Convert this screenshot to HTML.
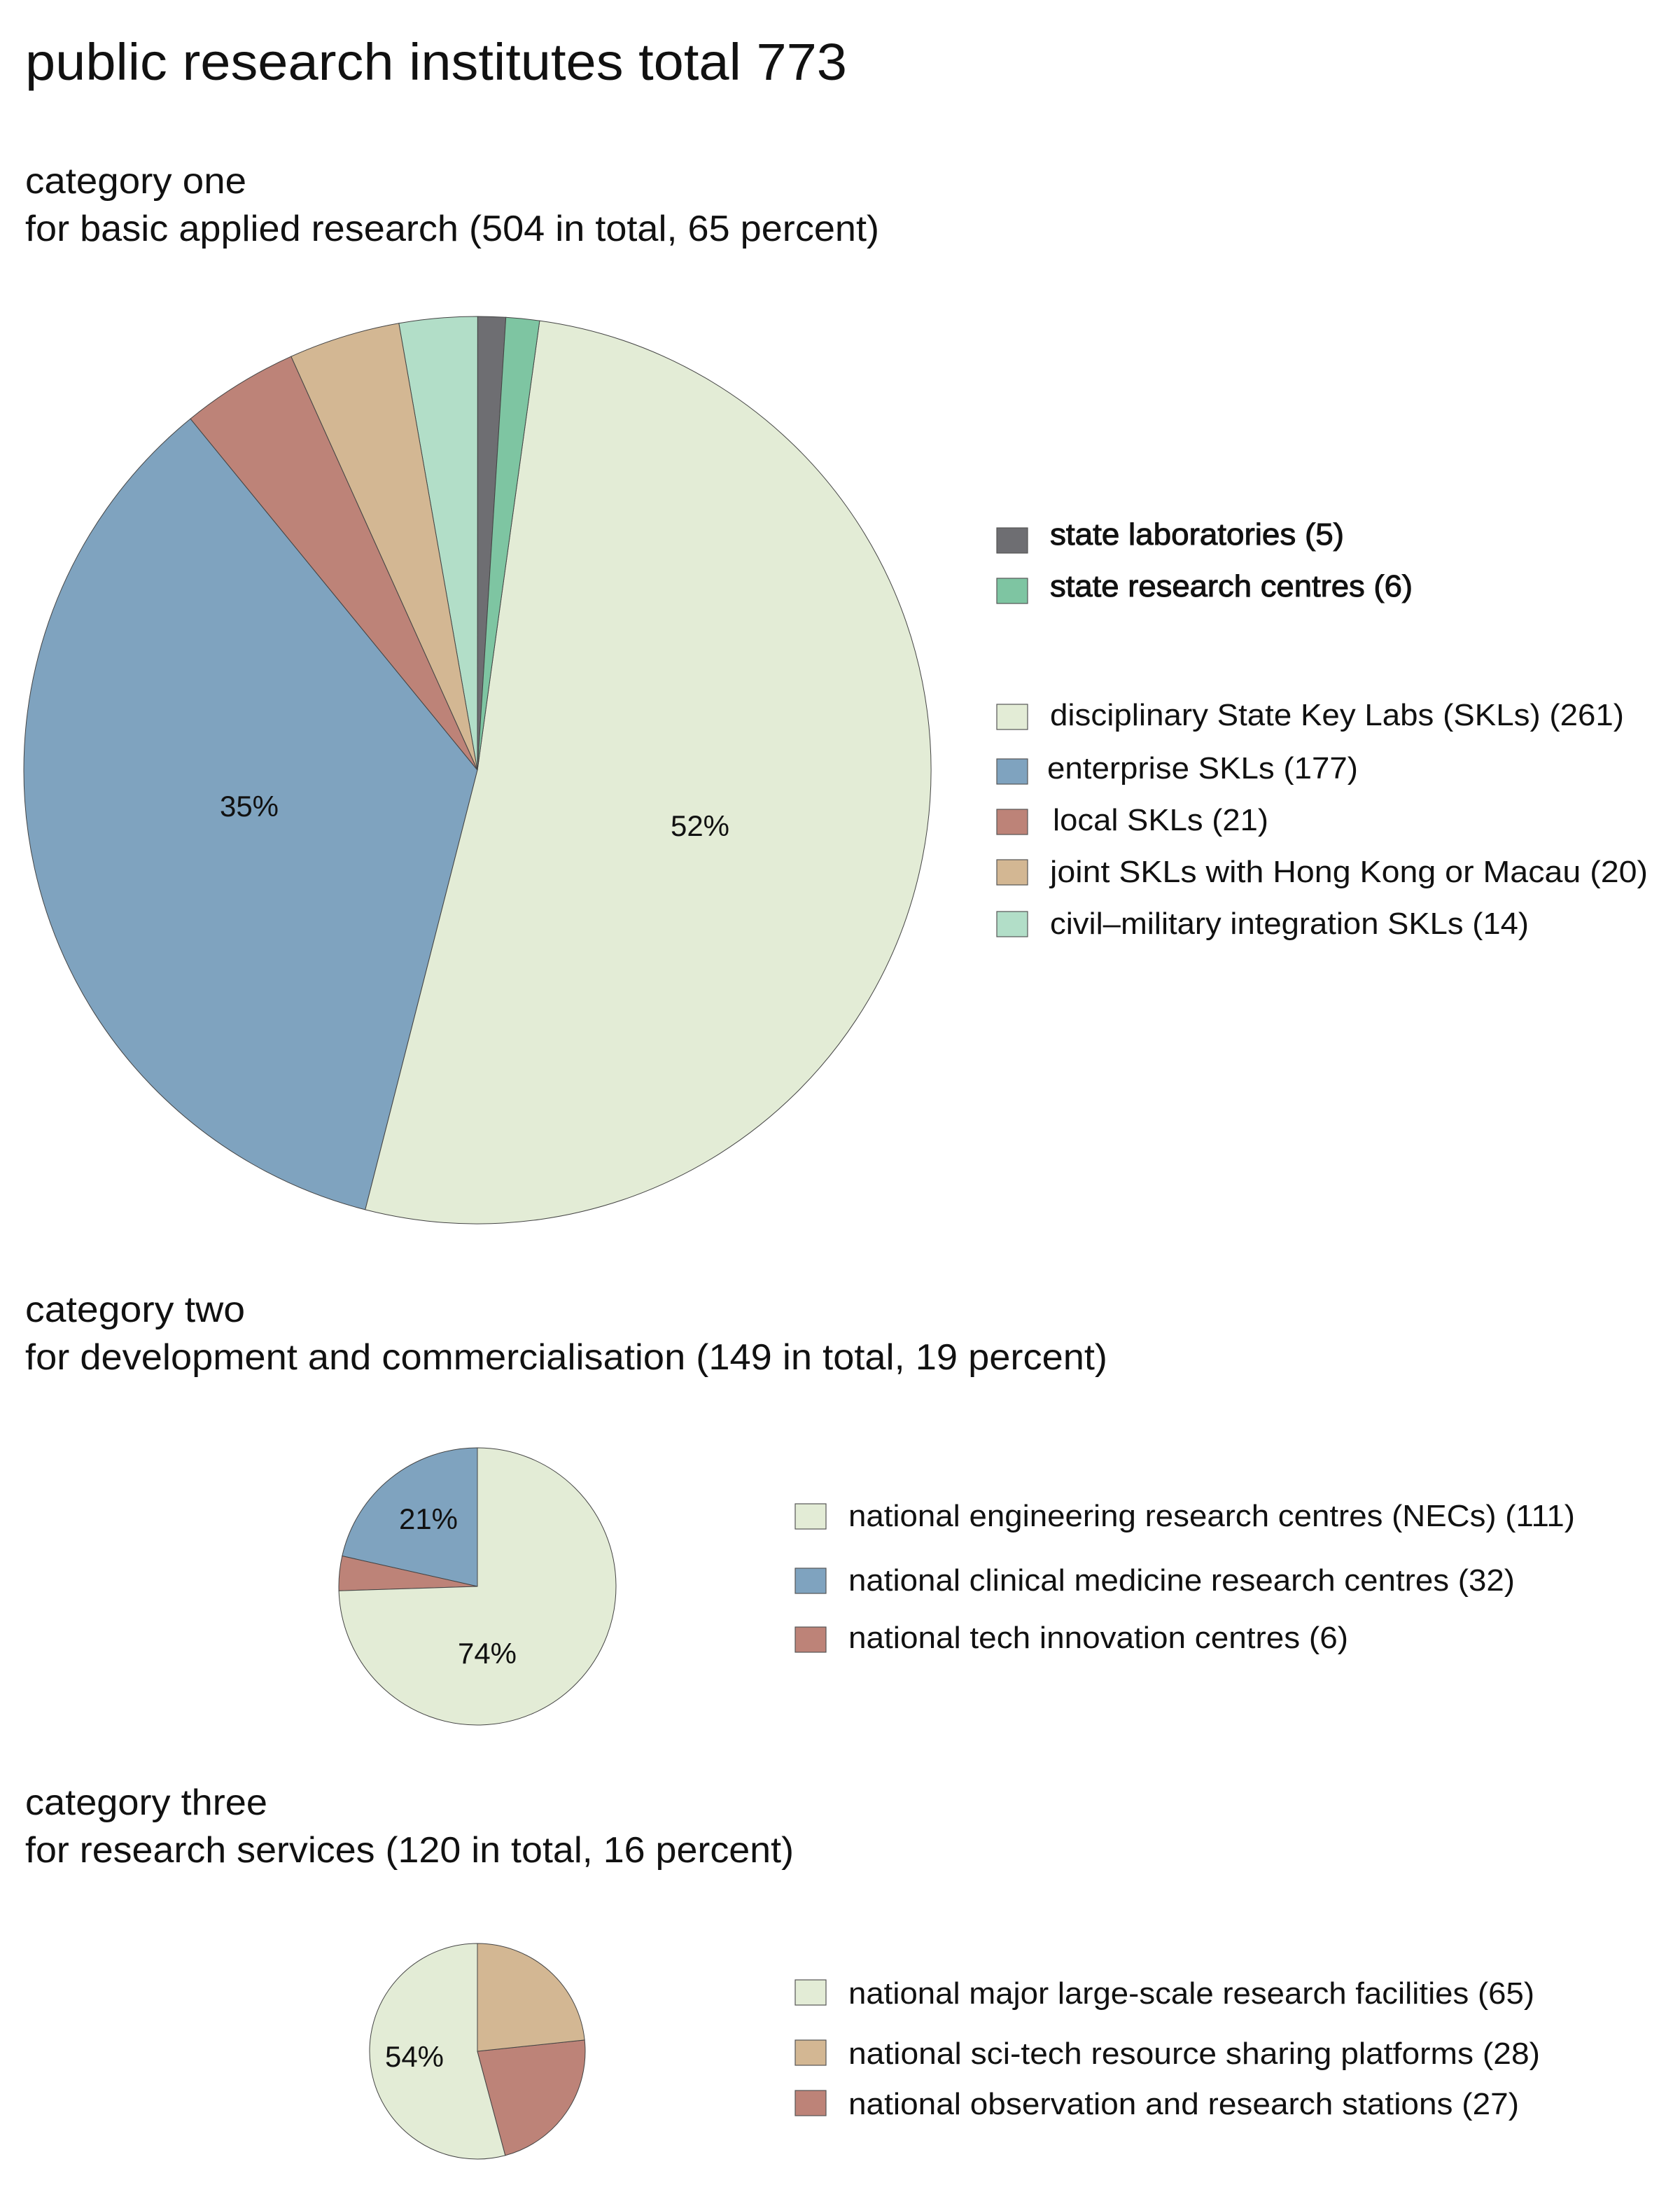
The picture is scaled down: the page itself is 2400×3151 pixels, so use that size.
<!DOCTYPE html>
<html><head><meta charset="utf-8"><style>
html,body{margin:0;padding:0;background:#fff;}
svg{display:block;}
text{font-family:"Liberation Sans",sans-serif;fill:#111;}
</style></head><body>
<svg id="s" width="2400" height="3151" viewBox="0 0 1200 1575.5" xmlns="http://www.w3.org/2000/svg">
<rect width="1200" height="1576" fill="#fff"/>
<text x="18" y="57" font-size="37" textLength="587" lengthAdjust="spacingAndGlyphs">public research institutes total 773</text>

<text x="18" y="138" font-size="26" textLength="158" lengthAdjust="spacingAndGlyphs">category one</text>
<text x="18" y="172" font-size="26" textLength="610" lengthAdjust="spacingAndGlyphs">for basic applied research (504 in total, 65 percent)</text>

<text x="18" y="944" font-size="26" textLength="157" lengthAdjust="spacingAndGlyphs">category two</text>
<text x="18" y="978" font-size="26" textLength="773" lengthAdjust="spacingAndGlyphs">for development and commercialisation (149 in total, 19 percent)</text>

<text x="18" y="1296" font-size="26" textLength="173" lengthAdjust="spacingAndGlyphs">category three</text>
<text x="18" y="1330" font-size="26" textLength="549" lengthAdjust="spacingAndGlyphs">for research services (120 in total, 16 percent)</text>

<g id="pies" stroke="#444" stroke-width="0.5"></g>

<text x="178" y="583" font-size="21" text-anchor="middle">35%</text>
<text x="500" y="597" font-size="21" text-anchor="middle">52%</text>
<text x="306" y="1092" font-size="21" text-anchor="middle">21%</text>
<text x="348" y="1188" font-size="21" text-anchor="middle">74%</text>
<text x="296" y="1476" font-size="21" text-anchor="middle">54%</text>

<g stroke="#555" stroke-width="0.6">
<rect x="712" y="377" width="22" height="18" fill="#6e6e72"/>
<rect x="712" y="413" width="22" height="18" fill="#7ec5a2"/>
<rect x="712" y="503" width="22" height="18" fill="#e3ecd6"/>
<rect x="712" y="542" width="22" height="18" fill="#7fa3bf"/>
<rect x="712" y="578" width="22" height="18" fill="#bd8378"/>
<rect x="712" y="614" width="22" height="18" fill="#d3b793"/>
<rect x="712" y="651" width="22" height="18" fill="#b2dec8"/>
<rect x="568" y="1074" width="22" height="18" fill="#e3ecd6"/>
<rect x="568" y="1120" width="22" height="18" fill="#7fa3bf"/>
<rect x="568" y="1162" width="22" height="18" fill="#bd8378"/>
<rect x="568" y="1414" width="22" height="18" fill="#e3ecd6"/>
<rect x="568" y="1457" width="22" height="18" fill="#d3b793"/>
<rect x="568" y="1493" width="22" height="18" fill="#bd8378"/>
</g>
<g font-size="22">
<text x="750" y="389" textLength="210" lengthAdjust="spacingAndGlyphs" stroke="#111" stroke-width="0.5">state laboratories (5)</text>
<text x="750" y="426" textLength="259" lengthAdjust="spacingAndGlyphs" stroke="#111" stroke-width="0.5">state research centres (6)</text>
<text x="750" y="518" textLength="410" lengthAdjust="spacingAndGlyphs">disciplinary State Key Labs (SKLs) (261)</text>
<text x="748" y="556" textLength="222" lengthAdjust="spacingAndGlyphs">enterprise SKLs (177)</text>
<text x="752" y="593" textLength="154" lengthAdjust="spacingAndGlyphs">local SKLs (21)</text>
<text x="750" y="630" textLength="427" lengthAdjust="spacingAndGlyphs">joint SKLs with Hong Kong or Macau (20)</text>
<text x="750" y="667" textLength="342" lengthAdjust="spacingAndGlyphs">civil–military integration SKLs (14)</text>
<text x="606" y="1090" textLength="519" lengthAdjust="spacingAndGlyphs">national engineering research centres (NECs) (111)</text>
<text x="606" y="1136" textLength="476" lengthAdjust="spacingAndGlyphs">national clinical medicine research centres (32)</text>
<text x="606" y="1177" textLength="357" lengthAdjust="spacingAndGlyphs">national tech innovation centres (6)</text>
<text x="606" y="1431" textLength="490" lengthAdjust="spacingAndGlyphs">national major large-scale research facilities (65)</text>
<text x="606" y="1474" textLength="494" lengthAdjust="spacingAndGlyphs">national sci-tech resource sharing platforms (28)</text>
<text x="606" y="1510" textLength="479" lengthAdjust="spacingAndGlyphs">national observation and research stations (27)</text>
</g>
</svg>
<script>
(function(){
var g=document.getElementById('pies');
function pie(cx,cy,r,start,data){
  var tot=0;data.forEach(function(d){tot+=d[0];});
  var a=start*Math.PI/180;
  data.forEach(function(d){
    var a0=a, a1=a+d[0]/tot*2*Math.PI; a=a1;
    var x0=cx-r*Math.sin(a0), y0=cy-r*Math.cos(a0);
    var x1=cx-r*Math.sin(a1), y1=cy-r*Math.cos(a1);
    var large=(a1-a0)>Math.PI?1:0;
    var p=document.createElementNS('http://www.w3.org/2000/svg','path');
    p.setAttribute('d','M'+cx+','+cy+' L'+x0+','+y0+' A'+r+','+r+' 0 '+large+' 0 '+x1+','+y1+' Z');
    p.setAttribute('fill',d[1]);
    g.appendChild(p);
  });
}
pie(341,550,324,-3.6,[[5,'#6e6e72'],[14,'#b2dec8'],[20,'#d3b793'],[21,'#bd8378'],[177,'#7fa3bf'],[261,'#e3ecd6'],[6,'#7ec5a2']]);
pie(341,1133,99,0,[[32,'#7fa3bf'],[6,'#bd8378'],[111,'#e3ecd6']]);
pie(341,1465,77,0,[[65,'#e3ecd6'],[27,'#bd8378'],[28,'#d3b793']]);
})();
</script>
</body></html>
